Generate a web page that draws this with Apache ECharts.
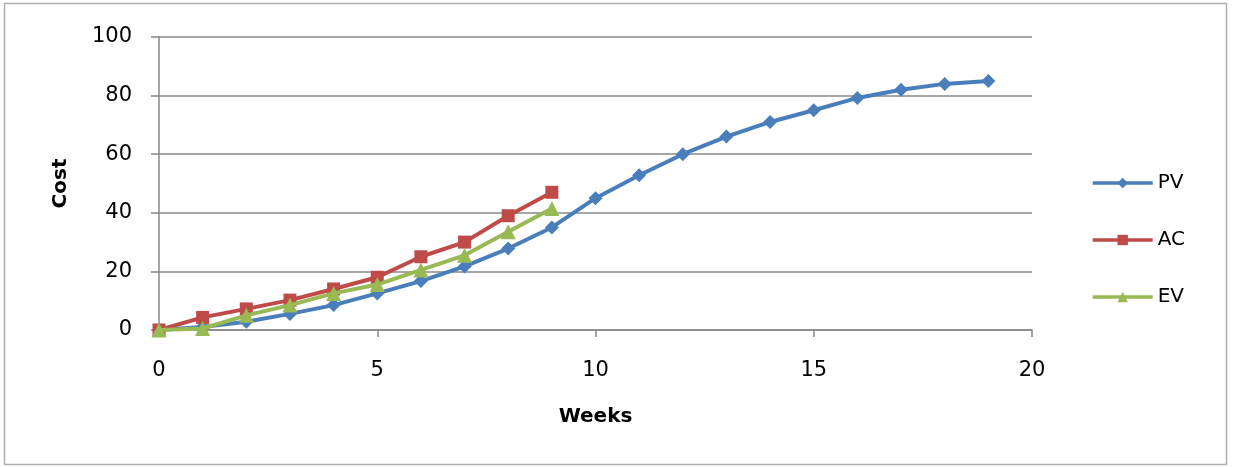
<!DOCTYPE html>
<html>
<head>
<meta charset="utf-8">
<script src="https://cdn.jsdelivr.net/npm/echarts@6/dist/echarts.min.js"></script>
<style>
html,body{margin:0;padding:0;background:#fff;}
#chart{width:1235px;height:467px;}
</style>
</head>
<body>
<div id="chart"></div>
<script>
const weeks = [0,1,2,3,4,5,6,7,8,9,10,11,12,13,14,15,16,17,18,19];
const pv = [0,1,2.8,5.5,8.5,12.5,16.7,21.7,27.8,35,45,52.8,60,66,71,75,79.2,82,84,85];
const ac = [0,4.3,7.2,10.2,14,18,25,30,39,47];
const ev = [0,0.5,5,8.5,12.5,15.5,20.5,25.5,33.5,41.5];
const xTicks = [0,5,10,15,20];
const yTicks = [0,20,40,60,80,100];

function pairs(vals){ return vals.map((v,i)=>[weeks[i], v]); }

const FONT = 'DejaVu Sans';
const C = {PV:'#4A7EBB', AC:'#BE4B48', EV:'#98B954'};
const chart = echarts.init(document.getElementById('chart'));
chart.setOption({
  animation:false,
  backgroundColor:'#fff',
  graphic:[{type:'rect',shape:{x:4.5,y:3.5,width:1222,height:461},style:{fill:null,stroke:'#b0b0b0',lineWidth:1.5},silent:true}],
  grid:{left:159,right:203,top:37,bottom:137},
  legend:{
    orient:'vertical', right:45, top:168, itemWidth:60, itemHeight:13, itemGap:37,
    textStyle:{fontFamily:FONT,fontSize:20,color:'#000'},
    lineStyle:{width:3.5},
    data:['PV','AC','EV']
  },
  xAxis:{
    type:'value', min:xTicks[0], max:xTicks[xTicks.length-1], interval:5,
    name:'Weeks', nameLocation:'middle', nameGap:77,
    nameTextStyle:{fontFamily:FONT,fontSize:20,fontWeight:'bold',color:'#000'},
    axisLine:{show:true,lineStyle:{color:'#888',width:1.5}},
    axisTick:{show:true,length:7,lineStyle:{color:'#888',width:1.5}},
    axisLabel:{fontFamily:FONT,fontSize:21,color:'#000',margin:30},
    splitLine:{show:false}
  },
  yAxis:{
    type:'value', min:yTicks[0], max:yTicks[yTicks.length-1], interval:20,
    name:'Cost', nameLocation:'middle', nameGap:88,
    nameTextStyle:{fontFamily:FONT,fontSize:20,fontWeight:'bold',color:'#000'},
    axisLine:{show:true,lineStyle:{color:'#888',width:1.5}},
    axisTick:{show:true,length:8,lineStyle:{color:'#888',width:1.5}},
    axisLabel:{fontFamily:FONT,fontSize:21,color:'#000',margin:27},
    splitLine:{show:true,lineStyle:{color:'#888',width:1.5}}
  },
  series:[
    {name:'PV',type:'line',data:pairs(pv),symbol:'diamond',symbolSize:14,
     itemStyle:{color:C.PV},lineStyle:{color:C.PV,width:4},z:3},
    {name:'AC',type:'line',data:pairs(ac),symbol:'rect',symbolSize:13,
     itemStyle:{color:C.AC},lineStyle:{color:C.AC,width:4},z:4},
    {name:'EV',type:'line',data:pairs(ev),symbol:'triangle',symbolSize:15,
     itemStyle:{color:C.EV},lineStyle:{color:C.EV,width:4},z:5}
  ]
});
</script>
</body>
</html>
